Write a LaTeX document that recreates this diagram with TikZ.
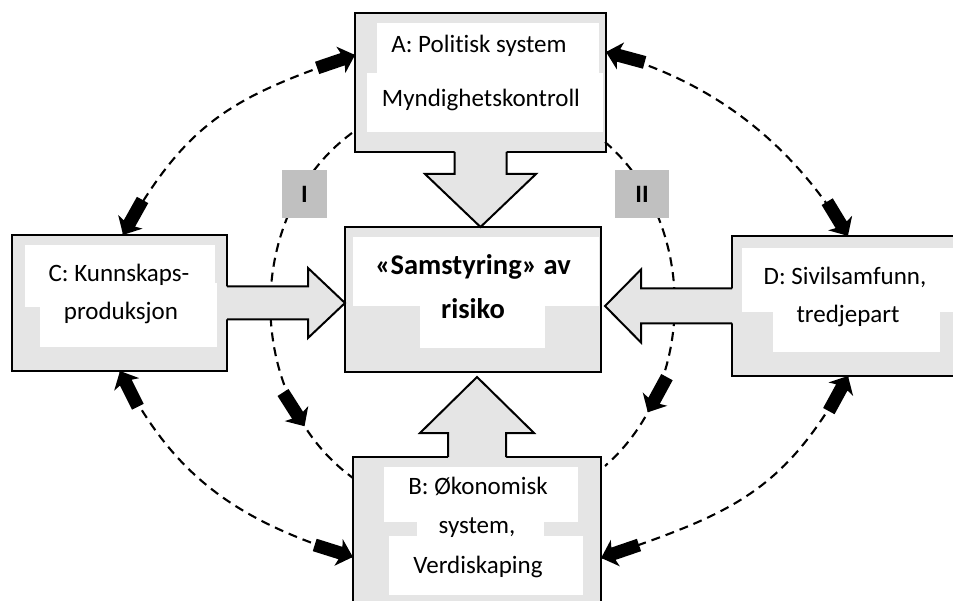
\documentclass[tikz,border=0pt]{standalone}
\usepackage{fontspec}
\setmainfont{Carlito}[Ligatures=NoCommon]
\usetikzlibrary{calc,decorations.markings}

\definecolor{boxgray}{HTML}{E5E5E5}
\definecolor{tabgray}{HTML}{C0C0C0}

% solid block tip pointing along the path (tip at the mark)
\newcommand{\tipfwd}{\fill[black,solid] (0,0) -- (-15,14) -- (-13,6.5) -- (-40,6.5) -- (-40,-6.5) -- (-13,-6.5) -- (-15,-14) -- cycle;}
% the same tip pointing against the path
\newcommand{\tipback}{\fill[black,solid] (0,0) -- (15,14) -- (13,6.5) -- (40,6.5) -- (40,-6.5) -- (13,-6.5) -- (15,-14) -- cycle;}

% wide hollow arrow: #1 tip, #2 rotation, #3 head length, #4 head half width,
% #5 shaft half width, #6 shaft length
\newcommand{\widearrow}[6]{%
  \begin{scope}[shift={(#1)}, rotate=#2]
    \fill[boxgray] (0,0) -- (-#3,#4) -- (-#3,#5) -- (-#3-#6-2.5,#5) -- (-#3-#6-2.5,-#5) -- (-#3,-#5) -- (-#3,-#4) -- cycle;
    \draw[line width=2pt, line join=miter] (-#3-#6,#5) -- (-#3,#5) -- (-#3,#4) -- (0,0) -- (-#3,-#4) -- (-#3,-#5) -- (-#3-#6,-#5);
  \end{scope}}

\tikzset{
  sysbox/.style={draw, line width=2.5pt, fill=boxgray, rectangle, outer sep=0pt, inner sep=0pt},
  tab/.style={fill=tabgray, rectangle, inner sep=0pt, font=\fontsize{25}{25}\selectfont\bfseries},
  lbl/.style={anchor=base, inner sep=0pt, font=\fontsize{25}{28}\selectfont},
  keylbl/.style={anchor=base, inner sep=0pt, font=\fontsize{28.5}{32}\selectfont\bfseries},
  link/.style={line width=2.1pt, dash pattern=on 9pt off 6pt},
  twoway/.style={postaction={decorate}, decoration={markings,
      mark=at position 0 with {\tipback}, mark=at position 0.9995 with {\tipfwd}}},
  midtip/.style={postaction={decorate}, decoration={markings,
      mark=at position #1 with {\tipfwd}}},
}

\begin{document}
\begin{tikzpicture}[x=1pt, y=-1pt]
\clip (0,0) rectangle (953,601);
\fill[white] (0,0) rectangle (953,601);

% the five systems
\node[sysbox, minimum width=251pt, minimum height=139pt] (A) at (480.5,82.5) {};
\node[sysbox, minimum width=256pt, minimum height=145pt] (S) at (473,299.5) {};
\node[sysbox, minimum width=215pt, minimum height=136pt] (C) at (119.5,303) {};
\node[sysbox, minimum width=228pt, minimum height=140pt] (D) at (846,306) {};
\node[sysbox, minimum width=248pt, minimum height=163pt] (B) at (477,538.5) {};

% white text fields
\fill[white] (377,23) rectangle (599,73);
\fill[white] (367,73) rectangle (603,132);
\fill[white] (353,237) rectangle (599,306);
\fill[white] (420,306) rectangle (545,348);
\fill[white] (25,245) rectangle (215,307);
\fill[white] (40,283) rectangle (217,347);
\fill[white] (742,248) rectangle (960,312);
\fill[white] (773,312) rectangle (940,352);
\fill[white] (384,467) rectangle (578,522);
\fill[white] (417,522) rectangle (544,536);
\fill[white] (389,536) rectangle (583,595);

% texts
\node[lbl] (A1) at (479,53) {A: Politisk system};
\node[lbl] (A2) at (481,107) {Myndighetskontroll};
\node[keylbl] (S1) at (473,275) {«Samstyring» av};
\node[keylbl] (S2) at (473,319) {risiko};
\node[lbl] (C1) at (119,282) {C: Kunnskaps-};
\node[lbl] (C2) at (121,320) {produksjon};
\node[lbl] (D1) at (845,285) {D: Sivilsamfunn,};
\node[lbl] (D2) at (848,322.5) {tredjepart};
\node[lbl] (B1) at (478,494) {B: Økonomisk};
\node[lbl] (B2) at (477,533) {system,};
\node[lbl] (B3) at (478,573) {Verdiskaping};

% end points of the dashed links
\coordinate (pA1) at ($(A.north west)+(0,42)$);
\coordinate (pC1) at ($(C.north west)+(111,0)$);
\coordinate (pA2) at ($(A.north east)+(0,39)$);
\coordinate (pD1) at ($(D.north west)+(116,0)$);
\coordinate (pC2) at ($(C.south west)+(108,0)$);
\coordinate (pB1) at ($(B.north west)+(0,100)$);
\coordinate (pD2) at ($(D.south west)+(116,0)$);
\coordinate (pB2) at ($(B.north east)+(0,101)$);
\coordinate (qA1) at ($(A.south west)+(-3,-19)$);
\coordinate (qB1) at ($(B.north west)+(0,21)$);
\coordinate (qA2) at ($(A.south east)+(-1,-10)$);
\coordinate (qB2) at ($(B.north east)+(4,9)$);

% outer two-way links
\draw[link, twoway] (pA1) .. controls +(-123,42) and +(63.4,-113.5) .. (pC1);
\draw[link, twoway] (pA2) .. controls +(106.2,28.7) and +(-57,-94) .. (pD1);
\draw[link, twoway] (pC2) .. controls +(53.6,107.3) and +(-114.5,-36) .. (pB1);
\draw[link, twoway] (pD2) .. controls +(-64.7,118.5) and +(127.7,-43.7) .. (pB2);

% inner links from A to B
\draw[link, midtip=0.82] (qA1) .. controls +(-109,80) and +(-110,-80) .. (qB1);
\draw[link, midtip=0.81] (qA2) .. controls +(93,80) and +(93,-81) .. (qB2);

% wide arrows into the central box
\coordinate (tA) at (A.south |- S.north);
\coordinate (tC) at (S.west |- C.east);
\coordinate (tD) at ($(S.east |- D.west)+(4,0)$);
\coordinate (tB) at ($(S.south -| B.north)+(0,5)$);
\widearrow{tA}{-90}{53}{55.5}{26}{22}
\widearrow{tC}{0}{37}{35}{16.5}{81}
\widearrow{tD}{180}{36}{36.5}{17.5}{91}
\widearrow{tB}{90}{56}{57}{29}{24}

% tags on the inner links
\node[tab, minimum width=45pt, minimum height=48pt] (I) at (304.5,194) {I};
\node[tab, minimum width=54pt, minimum height=48pt] (II) at (642,194) {II};
\end{tikzpicture}
\end{document}
